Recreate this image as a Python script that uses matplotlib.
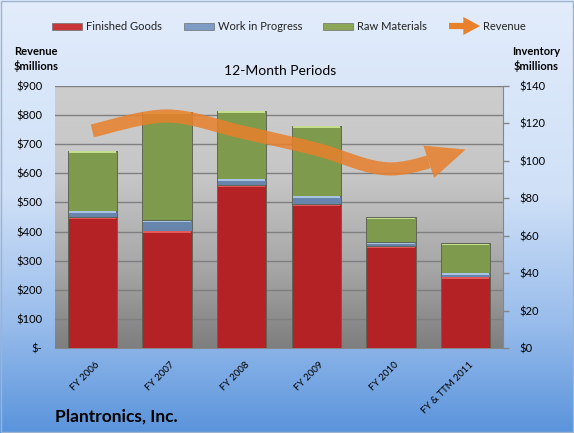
import numpy as np
import matplotlib
matplotlib.use('Agg')
import matplotlib.pyplot as plt
from matplotlib.colors import LinearSegmentedColormap
from matplotlib.path import Path
from matplotlib.patches import PathPatch, FancyArrowPatch, Rectangle, ArrowStyle

plt.rcParams['font.family'] = ['Lato', 'DejaVu Sans']

periods = ['FY 2006', 'FY 2007', 'FY 2008', 'FY 2009', 'FY 2010', 'FY & TTM 2011']
finished_goods = [70.0, 62.7, 87.0, 76.8, 54.3, 38.2]
work_in_progress = [3.4, 5.7, 3.5, 4.6, 2.3, 2.1]
raw_materials = [32.0, 57.9, 36.3, 37.4, 13.4, 15.6]
revenue = [746, 797, 742, 683, 615, 682]

rev_ticks = [0, 100, 200, 300, 400, 500, 600, 700, 800, 900]
rev_labels = ['$-'] + ['${}'.format(v) for v in rev_ticks[1:]]
inv_ticks = [0, 20, 40, 60, 80, 100, 120, 140]
inv_labels = ['${}'.format(v) for v in inv_ticks]

orange = '#E8802C'

fig = plt.figure(figsize=(5.74, 4.33), dpi=100)

# figure background gradient (light at top, blue at bottom)
bg = fig.add_axes([0, 0, 1, 1], zorder=-10)
bg_cmap = LinearSegmentedColormap.from_list('bg', [(0.0, '#5A94DC'), (0.25, '#98BCEB'),
                                                   (0.55, '#CFE0F7'), (1.0, '#E2ECFB')])
bg.imshow(np.linspace(0, 1, 256).reshape(-1, 1), cmap=bg_cmap, aspect='auto',
          extent=[0, 1, 0, 1], origin='lower')
bg.set_axis_off()
fig.patches.append(Rectangle((0.002, 0.002), 0.996, 0.995, transform=fig.transFigure,
                             fill=False, edgecolor='#9DB3CF', lw=1))

ax = fig.add_axes([55 / 574, 85 / 433, 448 / 574, 262 / 433])
ax.set_facecolor('none')
pa_cmap = LinearSegmentedColormap.from_list('pa', [(0.0, '#7E7E7E'), (0.3, '#A6A6A6'),
                                                   (0.65, '#C6C6C6'), (1.0, '#CDCDCD')])
ax.imshow(np.linspace(0, 1, 256).reshape(-1, 1), cmap=pa_cmap, aspect='auto',
          extent=[0, 1, 0, 1], origin='lower', transform=ax.transAxes, zorder=0)

x = np.arange(len(periods))
ax.set_xlim(-0.5, len(periods) - 0.5)
ax.set_ylim(0, 900)
ax.set_yticks(rev_ticks)
ax.set_yticklabels(rev_labels)
ax.yaxis.grid(True, color='#7F7F7F', lw=1)
ax.set_axisbelow(True)
ax.tick_params(axis='y', length=0, pad=9, labelsize=8)
ax.tick_params(axis='x', length=0, pad=9)
ax.set_xticks(x + 0.04)
ax.set_xticklabels(periods, rotation=45, ha='right', va='top', rotation_mode='anchor', fontsize=7)
for s in ['left', 'top', 'right']:
    ax.spines[s].set_visible(False)
ax.spines['bottom'].set_color('#888888')

ax2 = ax.twinx()
ax2.set_ylim(0, 140)
ax2.set_yticks(inv_ticks)
ax2.set_yticklabels(inv_labels)
ax2.tick_params(axis='y', length=4, width=1, color='#868686', pad=8, labelsize=8)
for s in ['left', 'top', 'bottom']:
    ax2.spines[s].set_visible(False)
ax2.spines['right'].set_color('#868686')

# stacked bars with a light strip on top of each segment
w = 0.66
segs = [(finished_goods, '#B42226', '#E25A5A'),
        (work_in_progress, '#6784AC', '#A9C3E2'),
        (raw_materials, '#7E9A4C', '#C5DE8E')]
bottom = np.zeros(len(periods))
for vals, col, hi in segs:
    vals = np.array(vals)
    ax2.bar(x, vals, w, bottom=bottom, color=col, edgecolor='#5F6558', linewidth=0.7, zorder=2)
    ax2.bar(x, 0.8, w * 0.96, bottom=bottom + vals - 1.1, color=hi, linewidth=0, zorder=2.5)
    bottom = bottom + vals

# revenue as a smooth curve (Bezier through the data points) ending in an arrow
pts = np.column_stack([x.astype(float), revenue])
n = len(pts)
verts = [pts[0]]
codes = [Path.MOVETO]
tip_base = None
for i in range(n - 1):
    p0, p3 = pts[i], pts[i + 1]
    c1 = p0 + (pts[i + 1] - pts[max(i - 1, 0)]) / 6
    c2 = p3 - (pts[min(i + 2, n - 1)] - p0) / 6
    if i == n - 2:
        t = 0.45
        a = p0 + (c1 - p0) * t
        b = c1 + (c2 - c1) * t
        c = c2 + (p3 - c2) * t
        d = a + (b - a) * t
        e = b + (c - b) * t
        f = d + (e - d) * t
        verts += [a, d, f]
        tip_base = f
    else:
        verts += [c1, c2, p3]
    codes += [Path.CURVE4] * 3

curve = PathPatch(Path(verts, codes), fill=False, edgecolor=orange, lw=9.5, alpha=0.85,
                  capstyle='butt', transform=ax.transData, zorder=5)
ax2.add_patch(curve)
head = FancyArrowPatch(tuple(tip_base), tuple(pts[-1]), transform=ax.transData,
                       arrowstyle=ArrowStyle.Simple(head_length=2.8, head_width=2.45, tail_width=0.95),
                       mutation_scale=10, shrinkA=0, shrinkB=0, color=orange, alpha=0.85,
                       lw=0, zorder=5)
ax2.add_patch(head)
ax2.set_ylim(0, 140)

# legend drawn by hand along the top
ly = 1 - 26 / 433
for x0, x1, col in [(52, 82, '#C8363A'), (184, 214, '#7D9BC4'), (323, 353, '#8BA656')]:
    fig.patches.append(Rectangle((x0 / 574, ly - 3.5 / 433), (x1 - x0) / 574, 7 / 433,
                                 transform=fig.transFigure, facecolor=col, edgecolor='#707070', lw=0.5))
for xt, txt in [(86, 'Finished Goods'), (218, 'Work in Progress'), (357, 'Raw Materials'),
                (483, 'Revenue')]:
    fig.text(xt / 574, ly, txt, fontsize=8, va='center', ha='left', color='#222222')
fig.patches.append(FancyArrowPatch((449 / 574, ly), (480 / 574, ly), transform=fig.transFigure,
                                   arrowstyle=ArrowStyle.Simple(head_length=1.2, head_width=1.3,
                                                                tail_width=0.45),
                                   mutation_scale=10, color=orange, lw=0, shrinkA=0, shrinkB=0))

fig.text(14 / 574, 1 - 59 / 433, 'Revenue\n$millions', fontsize=8, fontweight='bold',
         ha='left', va='center', linespacing=1.3)
fig.text(560 / 574, 1 - 59 / 433, 'Inventory\n$millions', fontsize=8, fontweight='bold',
         ha='right', va='center', linespacing=1.3, multialignment='center')
fig.text(280 / 574, 1 - 71 / 433, '12-Month Periods', fontsize=10, ha='center', va='center')
fig.text(55 / 574, 1 - 417 / 433, 'Plantronics, Inc.', fontsize=12.5, fontweight='bold',
         ha='left', va='center')

fig.savefig('out.png', dpi=100)
